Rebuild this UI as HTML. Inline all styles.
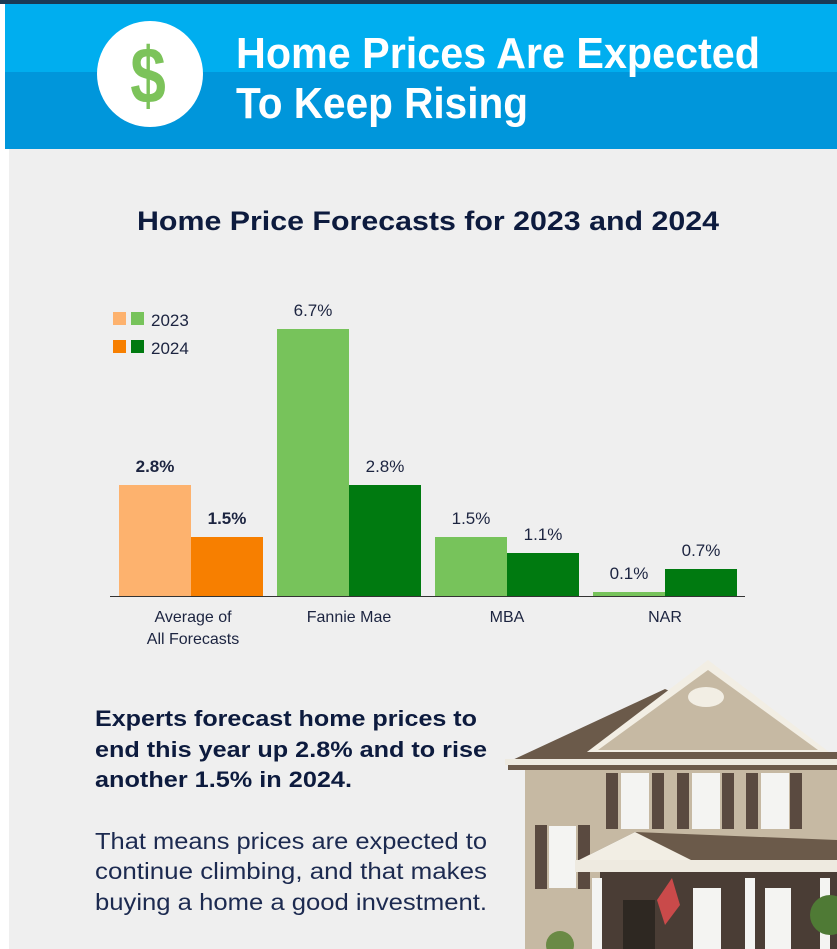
<!DOCTYPE html>
<html><head><meta charset="utf-8"><style>
html,body{margin:0;padding:0;width:837px;height:949px;overflow:hidden;background:#fff;font-family:"Liberation Sans",sans-serif}
</style></head><body>
<svg width="837" height="949" xmlns="http://www.w3.org/2000/svg" style="position:absolute;left:0;top:0">
<rect x="0" y="0" width="837" height="949" fill="#fff"/>
<rect x="0" y="0" width="837" height="4" fill="#1a3a55"/>
<rect x="5" y="4" width="832" height="68" fill="#00aeef"/>
<rect x="5" y="72" width="832" height="77" fill="#0096db"/>
<rect x="9" y="149" width="828" height="800" fill="#efefef"/>
<circle cx="150" cy="74" r="53" fill="#fff"/>
<text x="0" y="0" font-size="80" font-weight="bold" fill="#7cc35a" text-anchor="middle" transform="translate(148,103) scale(0.8,1)">$</text>
<text x="236" y="68" font-size="44" font-weight="bold" fill="#fff" textLength="524" lengthAdjust="spacingAndGlyphs">Home Prices Are Expected</text>
<text x="236" y="118" font-size="44" font-weight="bold" fill="#fff" textLength="292" lengthAdjust="spacingAndGlyphs">To Keep Rising</text>
<text x="428" y="230" font-size="27" font-weight="bold" fill="#0d1b3e" text-anchor="middle" textLength="582" lengthAdjust="spacingAndGlyphs">Home Price Forecasts for 2023 and 2024</text>
<rect x="113" y="312" width="13" height="13" fill="#fdb26e"/><rect x="131" y="312" width="13" height="13" fill="#77c35b"/>
<rect x="113" y="340" width="13" height="13" fill="#f77f00"/><rect x="131" y="340" width="13" height="13" fill="#007a10"/>
<text x="151" y="326" font-size="17" fill="#1c2440">2023</text>
<text x="151" y="354" font-size="17" fill="#1c2440">2024</text>
<rect x="119" y="485" width="72" height="111" fill="#fdb26e"/>
<rect x="191" y="537" width="72" height="59" fill="#f77f00"/>
<rect x="277" y="329" width="72" height="267" fill="#77c35b"/>
<rect x="349" y="485" width="72" height="111" fill="#007a10"/>
<rect x="435" y="537" width="72" height="59" fill="#77c35b"/>
<rect x="507" y="553" width="72" height="43" fill="#007a10"/>
<rect x="593" y="592" width="72" height="4" fill="#77c35b"/>
<rect x="665" y="569" width="72" height="27" fill="#007a10"/>
<line x1="110" y1="596.5" x2="745" y2="596.5" stroke="#333" stroke-width="1"/>
<g font-size="17" fill="#1c2440" text-anchor="middle">
<text x="155" y="472" font-weight="bold">2.8%</text>
<text x="227" y="524" font-weight="bold">1.5%</text>
<text x="313" y="316">6.7%</text>
<text x="385" y="472">2.8%</text>
<text x="471" y="524">1.5%</text>
<text x="543" y="540">1.1%</text>
<text x="629" y="579">0.1%</text>
<text x="701" y="556">0.7%</text>
<text x="193" y="622" font-size="16">Average of</text>
<text x="193" y="644" font-size="16">All Forecasts</text>
<text x="349" y="622" font-size="16">Fannie Mae</text>
<text x="507" y="622" font-size="16">MBA</text>
<text x="665" y="622" font-size="16">NAR</text>
</g>
<g font-size="22" font-weight="bold" fill="#0d1b3e">
<text x="95" y="726" textLength="382" lengthAdjust="spacingAndGlyphs">Experts forecast home prices to</text>
<text x="95" y="757" textLength="392" lengthAdjust="spacingAndGlyphs">end this year up 2.8% and to rise</text>
<text x="95" y="787" textLength="257" lengthAdjust="spacingAndGlyphs">another 1.5% in 2024.</text>
</g>
<g font-size="23" fill="#1c2a50">
<text x="95" y="849" textLength="392" lengthAdjust="spacingAndGlyphs">That means prices are expected to</text>
<text x="95" y="879" textLength="392" lengthAdjust="spacingAndGlyphs">continue climbing, and that makes</text>
<text x="95" y="910" textLength="392" lengthAdjust="spacingAndGlyphs">buying a home a good investment.</text>
</g>
<!-- house -->
<polygon points="508,762 665,689 837,765 837,770 508,770" fill="#6b5a4a"/>
<rect x="525" y="770" width="312" height="179" fill="#c6b9a3"/>
<polygon points="583,755 708,660 833,755" fill="#f2eee4"/>
<polygon points="598,750 708,670 818,750" fill="#c6b9a3"/>
<rect x="578" y="752" width="259" height="10" fill="#6b5a4a"/>
<rect x="505" y="759" width="332" height="6" fill="#eeeae0"/>
<g fill="#5a4a40">
<rect x="606" y="773" width="12" height="56"/><rect x="652" y="773" width="12" height="56"/>
<rect x="677" y="773" width="12" height="56"/><rect x="722" y="773" width="12" height="56"/>
<rect x="746" y="773" width="12" height="56"/><rect x="790" y="773" width="12" height="56"/>
<rect x="535" y="825" width="12" height="64"/><rect x="578" y="825" width="12" height="64"/>
</g>
<g fill="#f4f4f2"><rect x="621" y="773" width="28" height="56"/><rect x="692" y="773" width="28" height="56"/><rect x="761" y="773" width="28" height="56"/><rect x="549" y="826" width="27" height="62"/></g>
<polygon points="575,862 635,832 837,840 837,862" fill="#6b5a4a"/>
<polygon points="575,862 635,832 695,862" fill="#f2eee4"/>
<rect x="575" y="860" width="262" height="12" fill="#eeeae0"/>
<rect x="600" y="872" width="237" height="77" fill="#4a3d35"/>
<g fill="#f4f4f2"><rect x="592" y="878" width="10" height="71"/><rect x="745" y="878" width="10" height="71"/><rect x="820" y="878" width="10" height="71"/><rect x="693" y="888" width="28" height="61"/><rect x="765" y="888" width="26" height="61"/></g>
<rect x="623" y="900" width="32" height="49" fill="#2e2822"/>
<polygon points="672,878 657,900 665,925 680,905" fill="#c94a4a"/>
<circle cx="830" cy="915" r="20" fill="#4f7a35"/>
<circle cx="560" cy="945" r="14" fill="#6a8a45"/>
<ellipse cx="706" cy="697" rx="18" ry="10" fill="#f2eee4"/>
</svg>
</body></html>
